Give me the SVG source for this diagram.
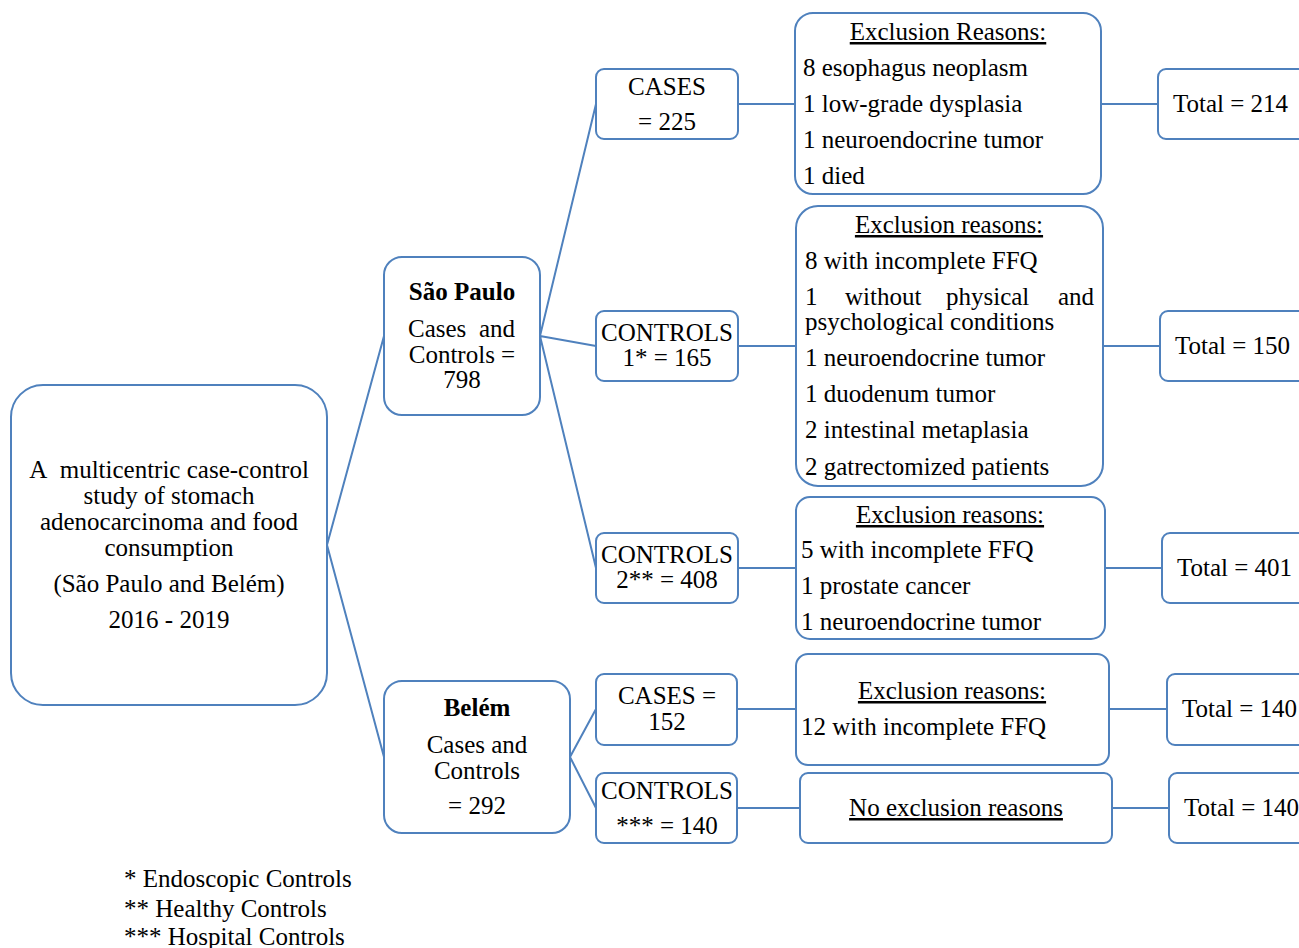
<svg xmlns="http://www.w3.org/2000/svg" width="1299" height="948" viewBox="0 0 1299 948">
<style>
.box{fill:#fff;stroke:#4f81bd;stroke-width:2}
.ln{stroke:#4f81bd;stroke-width:2;fill:none}
text{font-family:"Liberation Serif","Times New Roman",serif;font-size:25px;fill:#000}
.c{text-anchor:middle}
.b{font-weight:bold}
.u{text-decoration:underline}
.e{text-anchor:end}
</style>
<rect width="1299" height="948" fill="#fff"/>
<g id="connectors">
<path class="ln" d="M327,545 L384,336 M327,545 L384,757"/>
<path class="ln" d="M540,336 L596,104 M540,336 L596,346 M540,336 L596,568"/>
<path class="ln" d="M570,757 L596,709 M570,757 L596,808"/>
<path class="ln" d="M738,104 H795 M1101,104 H1158"/>
<path class="ln" d="M738,346 H796 M1103,346 H1160"/>
<path class="ln" d="M738,568 H796 M1105,568 H1162"/>
<path class="ln" d="M737,709 H796 M1109,709 H1167"/>
<path class="ln" d="M737,808 H800 M1112,808 H1169"/>
</g>
<g id="main">
<rect class="box" x="11" y="385" width="316" height="320" rx="32"/>
<text class="c" x="169" y="478">A&#160; multicentric case-control</text>
<text class="c" x="169" y="504">study of stomach</text>
<text class="c" x="169" y="530">adenocarcinoma and food</text>
<text class="c" x="169" y="556">consumption</text>
<text class="c" x="169" y="592">(São Paulo and Belém)</text>
<text class="c" x="169" y="628">2016 - 2019</text>
</g>
<g id="saopaulo">
<rect class="box" x="384" y="257" width="156" height="158" rx="18"/>
<text class="c b" x="462" y="300">São Paulo</text>
<text x="408" y="337">Cases</text>
<text class="e" x="515" y="337">and</text>
<text class="c" x="462" y="363">Controls =</text>
<text class="c" x="462" y="388">798</text>
</g>
<g id="belem">
<rect class="box" x="384" y="681" width="186" height="152" rx="18"/>
<text class="c b" x="477" y="716">Belém</text>
<text class="c" x="477" y="753">Cases and</text>
<text class="c" x="477" y="779">Controls</text>
<text class="c" x="477" y="814">= 292</text>
</g>
<g id="sp-cases">
<rect class="box" x="596" y="69" width="142" height="70" rx="8"/>
<text class="c" x="667" y="95">CASES</text>
<text class="c" x="667" y="130">= 225</text>
</g>
<g id="sp-controls1">
<rect class="box" x="596" y="311" width="142" height="70" rx="8"/>
<text class="c" x="667" y="341">CONTROLS</text>
<text class="c" x="667" y="366">1* = 165</text>
</g>
<g id="sp-controls2">
<rect class="box" x="596" y="533" width="142" height="70" rx="8"/>
<text class="c" x="667" y="563">CONTROLS</text>
<text class="c" x="667" y="588">2** = 408</text>
</g>
<g id="be-cases">
<rect class="box" x="596" y="674" width="141" height="71" rx="8"/>
<text class="c" x="667" y="704">CASES =</text>
<text class="c" x="667" y="730">152</text>
</g>
<g id="be-controls">
<rect class="box" x="596" y="773" width="141" height="70" rx="8"/>
<text class="c" x="667" y="799">CONTROLS</text>
<text class="c" x="667" y="834">*** = 140</text>
</g>
<g id="excl1">
<rect class="box" x="795" y="13" width="306" height="181" rx="18"/>
<text class="c u" x="948" y="40">Exclusion Reasons:</text>
<text x="803" y="76">8 esophagus neoplasm</text>
<text x="803" y="112">1 low-grade dysplasia</text>
<text x="803" y="148">1 neuroendocrine tumor</text>
<text x="803" y="184">1 died</text>
</g>
<g id="excl2">
<rect class="box" x="796" y="206" width="307" height="280" rx="22"/>
<text class="c u" x="949" y="233">Exclusion reasons:</text>
<text x="805" y="269">8 with incomplete FFQ</text>
<text x="805" y="305">1</text>
<text x="845" y="305">without</text>
<text x="946" y="305">physical</text>
<text class="e" x="1094" y="305">and</text>
<text x="805" y="330">psychological conditions</text>
<text x="805" y="366">1 neuroendocrine tumor</text>
<text x="805" y="402">1 duodenum tumor</text>
<text x="805" y="438">2 intestinal metaplasia</text>
<text x="805" y="475">2 gatrectomized patients</text>
</g>
<g id="excl3">
<rect class="box" x="796" y="497" width="309" height="142" rx="14"/>
<text class="c u" x="950" y="523">Exclusion reasons:</text>
<text x="801" y="558">5 with incomplete FFQ</text>
<text x="801" y="594">1 prostate cancer</text>
<text x="801" y="630">1 neuroendocrine tumor</text>
</g>
<g id="excl4">
<rect class="box" x="796" y="654" width="313" height="111" rx="12"/>
<text class="c u" x="952" y="699">Exclusion reasons:</text>
<text x="801" y="735">12 with incomplete FFQ</text>
</g>
<g id="excl5">
<rect class="box" x="800" y="773" width="312" height="70" rx="8"/>
<text class="c u" x="956" y="816">No exclusion reasons</text>
</g>
<g id="total1">
<rect class="box" x="1158" y="69" width="160" height="70" rx="8"/>
<text x="1173" y="112">Total = 214</text>
</g>
<g id="total2">
<rect class="box" x="1160" y="311" width="160" height="70" rx="8"/>
<text x="1175" y="354">Total = 150</text>
</g>
<g id="total3">
<rect class="box" x="1162" y="533" width="160" height="70" rx="8"/>
<text x="1177" y="576">Total = 401</text>
</g>
<g id="total4">
<rect class="box" x="1167" y="674" width="160" height="71" rx="8"/>
<text x="1182" y="717">Total = 140</text>
</g>
<g id="total5">
<rect class="box" x="1169" y="773" width="160" height="70" rx="8"/>
<text x="1184" y="816">Total = 140</text>
</g>
<g id="footnotes">
<text x="124" y="887">* Endoscopic Controls</text>
<text x="124" y="917">** Healthy Controls</text>
<text x="124" y="945">*** Hospital Controls</text>
</g>
</svg>
